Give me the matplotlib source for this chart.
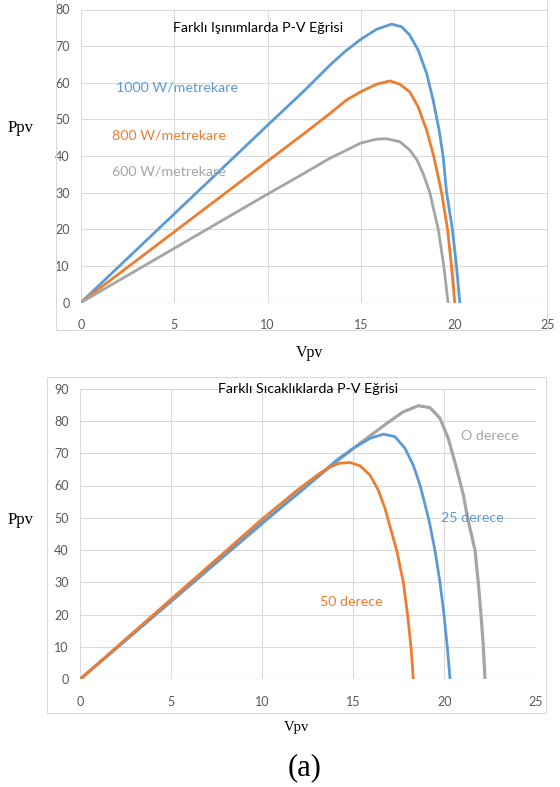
import matplotlib
matplotlib.use("Agg")
import matplotlib.pyplot as plt
from matplotlib.patches import Rectangle

W, H = 560, 787

# top chart: P-V curves at different irradiance
v_1000 = [0, 5, 10, 12, 13.34, 14.14, 14.98, 15.84, 16.64, 17.18, 17.62, 18.07, 18.52,
          18.87, 19.19, 19.41, 19.59, 19.9, 20.12, 20.3]
p_1000 = [0, 24.2, 48.4, 58, 64.8, 68.5, 71.8, 74.6, 76, 75.3, 73, 68.9, 62.6,
          55.3, 47.1, 39.8, 30.1, 20.1, 10.1, 0]
v_800 = [0, 5, 10, 12, 13.34, 14.23, 14.98, 15.84, 16.55, 17.09, 17.62, 18.07, 18.52,
         18.91, 19.32, 19.64, 19.85, 20.03]
p_800 = [0, 19.3, 38.6, 46.3, 51.6, 55.3, 57.5, 59.6, 60.5, 59.6, 57.5, 53.4, 47.1,
         39.8, 30.1, 20.1, 10.1, 0]
v_600 = [0, 5, 10, 12, 13.34, 14.23, 14.98, 15.84, 16.37, 17.09, 17.62, 18.01, 18.35,
         18.69, 19.14, 19.44, 19.67]
p_600 = [0, 14.8, 29.6, 35.4, 39.4, 41.6, 43.5, 44.6, 44.7, 43.9, 41.6, 38.9, 35,
         30.1, 20.1, 10.1, 0]

# bottom chart: P-V curves at different temperatures
v_25 = [0, 5, 10, 12, 13.17, 14.09, 15, 15.92, 16.65, 17.29, 17.84, 18.29, 18.66,
        18.99, 19.17, 19.48, 19.76, 19.98, 20.16, 20.31]
p_25 = [0, 24.3, 48.5, 57.6, 63.3, 67.9, 71.5, 74.6, 75.9, 75.1, 71.5, 66.3, 60.2,
        52.9, 48.8, 40, 29.9, 19.9, 9.9, 0]
v_50 = [0, 5, 10, 12, 13.17, 13.72, 14.27, 14.82, 15.37, 15.92, 16.37, 16.74, 16.94,
        17.38, 17.75, 17.98, 18.17, 18.29]
p_50 = [0, 24.8, 49.6, 58.9, 63.8, 65.8, 66.9, 67.1, 66.1, 63.2, 58.6, 52.9, 48.8,
        40, 29.9, 19.9, 9.9, 0]
v_0 = [0, 5, 10, 12, 13.17, 15, 16.83, 17.74, 18.57, 19.21, 19.76, 20.21, 20.67,
       21.04, 21.27, 21.68, 21.86, 22.01, 22.14, 22.23]
p_0 = [0, 24.1, 48.2, 57.9, 63.3, 71.5, 79.2, 82.8, 84.7, 84.1, 80.8, 74.6, 65.3,
       57.1, 50, 40, 29.9, 19.9, 9.9, 0]

x_ticks = [0, 5, 10, 15, 20, 25]

blue = "#5b9bd5"
orange = "#ed7d31"
gray = "#a5a5a5"
grid = "#d9d9d9"
tick_col = "#595959"

plt.rcParams['font.family'] = ['Lato', 'DejaVu Sans']

fig = plt.figure(figsize=(W / 100, H / 100), dpi=100)


def px_axes(l, t, r, b):
    return fig.add_axes([l / W, 1 - b / H, (r - l) / W, (b - t) / H])


def box(l, t, r, b):
    fig.patches.append(Rectangle((l / W, 1 - b / H), (r - l) / W, (b - t) / H,
                                 transform=fig.transFigure, fill=False,
                                 edgecolor=grid, lw=0.75))


def ftext(x, y, s, **kw):
    fig.text(x / W, 1 - y / H, s, **kw)


def style(ax, ymax):
    ax.set_xlim(0, 25)
    ax.set_ylim(0, ymax)
    ax.set_xticks(x_ticks)
    ax.set_yticks(range(0, ymax + 1, 10))
    for s in ax.spines.values():
        s.set_visible(False)
    ax.grid(True, color=grid, lw=0.75)
    ax.axhline(0, color="#c6c6c6", lw=0.8, zorder=1)
    ax.set_axisbelow(True)
    ax.tick_params(length=0, colors=tick_col, labelsize=9)
    ax.tick_params(axis="x", pad=12)
    ax.tick_params(axis="y", pad=8)


def curve(ax, v, p, c, lw=2):
    ax.plot(v, p, color=c, lw=lw, solid_capstyle="round", solid_joinstyle="round")


box(56, -2, 547, 330)
ax1 = px_axes(81, 9.5, 547.5, 302.5)
style(ax1, 80)
curve(ax1, v_1000, p_1000, blue)
curve(ax1, v_800, p_800, orange)
curve(ax1, v_600, p_600, gray)
ftext(258, 28, "Farklı Işınımlarda P-V Eğrisi", fontsize=10.3, ha="center", va="center")
ftext(116, 88, "1000 W/metrekare", fontsize=10.3, color=blue, va="center")
ftext(112, 135, "800 W/metrekare", fontsize=10.3, color=orange, va="center")
ftext(112, 171, "600 W/metrekare", fontsize=10.3, color=gray, va="center")
ftext(21, 128, "Ppv", fontsize=12, family="Liberation Serif", ha="center", va="center")
ftext(310, 353, "Vpv", fontsize=11.5, family="Liberation Serif", ha="center", va="center")

box(47, 377, 546, 713)
ax2 = px_axes(80, 388.6, 535.5, 679.3)
style(ax2, 90)
curve(ax2, v_0, p_0, gray, lw=2.3)
curve(ax2, v_25, p_25, blue)
curve(ax2, v_50, p_50, orange)
ftext(308, 389, "Farklı Sıcaklıklarda P-V Eğrisi", fontsize=10.3, ha="center", va="center")
ftext(461, 436, "O derece", fontsize=10.3, color=gray, va="center")
ftext(441, 518, "25 derece", fontsize=10.3, color=blue, va="center")
ftext(320, 602, "50 derece", fontsize=10.3, color=orange, va="center")
ftext(21, 520, "Ppv", fontsize=12, family="Liberation Serif", ha="center", va="center")
ftext(297, 727, "Vpv", fontsize=10.5, family="Liberation Serif", ha="center", va="center")

ftext(305, 768, "(a)", fontsize=22, family="Liberation Serif", ha="center", va="center")

fig.savefig("out.png", dpi=100)
